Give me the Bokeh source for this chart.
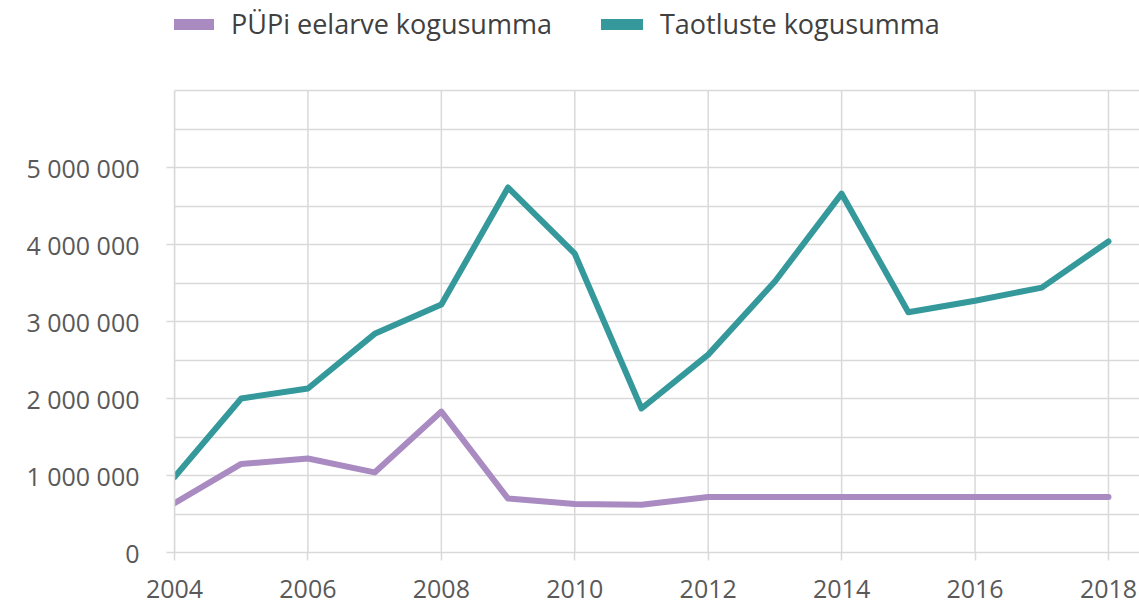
from bokeh.plotting import figure
from bokeh.models import Range1d, FixedTicker, CustomJSTickFormatter, Legend, LegendItem
from bokeh.embed import file_html
from bokeh.resources import INLINE

years = list(range(2004, 2019))
pupi = [640000, 1150000, 1220000, 1040000, 1830000, 700000, 630000, 620000,
        720000, 720000, 720000, 720000, 720000, 720000, 720000]
taotlused = [980000, 2000000, 2130000, 2840000, 3220000, 4740000, 3880000, 1870000,
             2570000, 3520000, 4660000, 3120000, 3270000, 3440000, 4040000]
series_names = ["PÜPi eelarve kogusumma", "Taotluste kogusumma"]
series_colors = ["#a98bc2", "#35999c"]
x_ticks = [2004, 2006, 2008, 2010, 2012, 2014, 2016, 2018]
y_ticks = [0, 1000000, 2000000, 3000000, 4000000, 5000000]
y_minor = [500000, 1500000, 2500000, 3500000, 4500000, 5500000, 6000000]
grid_top = y_minor[-1]

FONT = "Open Sans"
GRID = "#d9d9d9"
TXT = "#595959"
NAN = float("nan")

# frame spans the whole height above the x axis; grid stops at grid_top,
# leaving the band above it for the legend
p = figure(width=1139, height=605, x_range=Range1d(2004, 2018.465),
           y_range=Range1d(0, grid_top * 552 / 462),
           output_backend="svg", toolbar_location=None,
           min_border_left=174, min_border_right=0, min_border_top=0, min_border_bottom=53)
p.outline_line_color = None

# vertical grid lines, limited to the gridded area
p.xgrid.grid_line_color = None
p.segment(x0=x_ticks, y0=[0] * len(x_ticks), x1=x_ticks, y1=[grid_top] * len(x_ticks),
          line_color=GRID, line_width=1.5)

r1 = p.line(years, pupi, line_color=series_colors[0], line_width=6, line_cap="round", line_join="round")
r2 = p.line(years, taotlused, line_color=series_colors[1], line_width=6, line_cap="round", line_join="round")

# thicker swatches for the legend (they draw nothing in the plot)
s1 = p.line(x=[NAN], y=[NAN], line_color=series_colors[0], line_width=11, line_cap="round")
s2 = p.line(x=[NAN], y=[NAN], line_color=series_colors[1], line_width=11, line_cap="round")

for ax in (p.xaxis[0], p.yaxis[0]):
    ax.axis_line_color = GRID
    ax.axis_line_width = 1.5
    ax.major_tick_line_color = GRID
    ax.major_tick_line_width = 1.5
    ax.minor_tick_line_color = None
    ax.major_tick_in = 0
    ax.major_tick_out = 8
    ax.major_label_text_font = FONT
    ax.major_label_text_font_size = "25px"
    ax.major_label_text_color = TXT

p.xaxis.ticker = FixedTicker(ticks=x_ticks)
p.xaxis.major_label_standoff = 19
p.yaxis.ticker = FixedTicker(ticks=y_ticks, minor_ticks=y_minor)
p.yaxis.bounds = (0, grid_top)
p.yaxis.major_label_standoff = 27
p.yaxis.formatter = CustomJSTickFormatter(code="return tick.toFixed(0).replace(/\\B(?=(\\d{3})+(?!\\d))/g, ' ');")

p.ygrid.grid_line_color = GRID
p.ygrid.grid_line_width = 1.5
p.ygrid.minor_grid_line_color = GRID
p.ygrid.minor_grid_line_width = 1.5

legend = Legend(items=[LegendItem(label=series_names[0], renderers=[s1]),
                       LegendItem(label=series_names[1], renderers=[s2])],
                location=(-2, 510), orientation="horizontal",
                glyph_width=42, glyph_height=30, label_height=30,
                label_standoff=17, spacing=49, padding=0, margin=0,
                label_text_font=FONT, label_text_font_size="27px", label_text_color="#404040",
                border_line_color=None, background_fill_alpha=0)
p.add_layout(legend, "center")

open("out.html", "w").write(file_html(p, INLINE))
